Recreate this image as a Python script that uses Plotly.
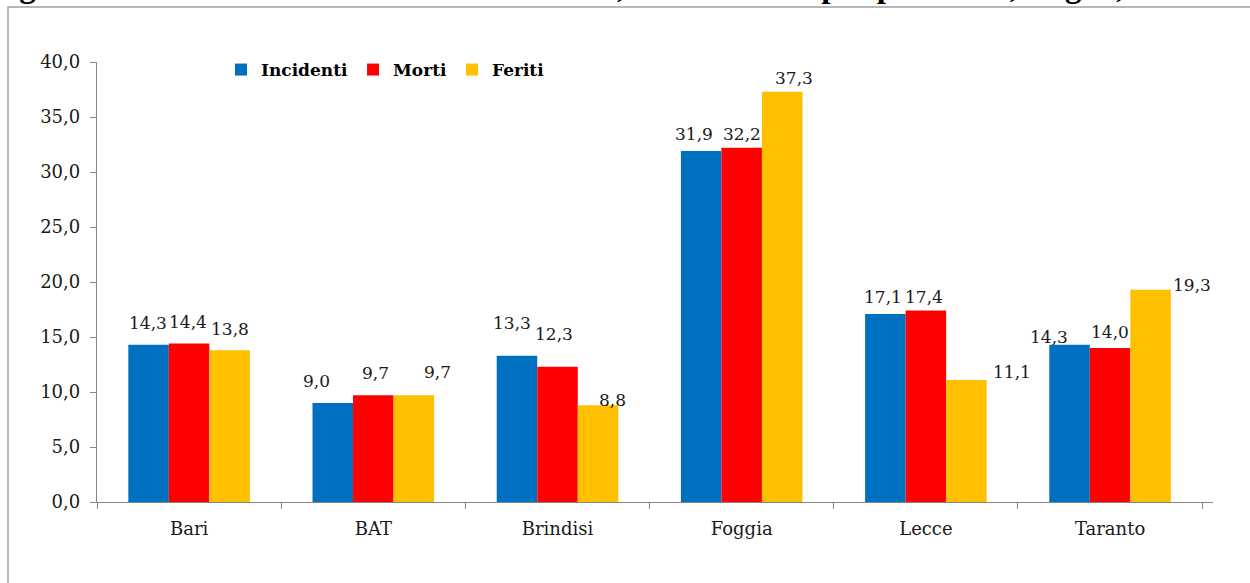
import plotly.graph_objects as go

# ---------------- data ----------------
categories = ["Bari", "BAT", "Brindisi", "Foggia", "Lecce", "Taranto"]
incidenti = [14.3, 9.0, 13.3, 31.9, 17.1, 14.3]
morti = [14.4, 9.7, 12.3, 32.2, 17.4, 14.0]
feriti = [13.8, 9.7, 8.8, 37.3, 11.1, 19.3]
series_names = ["Incidenti", "Morti", "Feriti"]
y_ticks = [0, 5, 10, 15, 20, 25, 30, 35, 40]
title_text = ("Figura 2 – Distribuzione di incidenti stradali, morti e feriti "
              "per provincia, Puglia, 2012")

# ---------------- styles ----------------
colors = ["#0070C0", "#FF0000", "#FFC000"]
W, H = 1250, 583
L, R, T, B = 97, 37, 62, 81
plot_w = W - L - R
plot_h = H - T - B
bargap = 0.34
axis_gray = "#868686"
text_col = "#1a1a1a"
label_font = dict(family="DejaVu Serif", size=17, color=text_col)

# label offsets (dx px, lift px) per series, per category
label_offsets = [
    [(0, 22), (-16, 22), (-5, 33), (-7, 17), (-2, 17), (-20, 8)],
    [(-1, 22), (2, 22), (-3, 33), (0, 14), (-2, 14), (0, 16)],
    [(0, 21), (23, 23), (14, 5), (11, 14), (45, 8), (41, 5)],
]

all_series = [incidenti, morti, feriti]

fig = go.Figure()
for name, vals, col in zip(series_names, all_series, colors):
    fig.add_trace(go.Bar(x=categories, y=vals, name=name,
                         marker=dict(color=col, line=dict(width=0))))

cat_w = plot_w / len(categories)
bar_w = cat_w * (1 - bargap) / len(all_series)

annotations = []
for si, vals in enumerate(all_series):
    center_off = (si - (len(all_series) - 1) / 2) * bar_w
    for ci, v in enumerate(vals):
        dx, lift = label_offsets[si][ci]
        annotations.append(dict(
            x=categories[ci], y=v, xref="x", yref="y",
            text=f"{v:.1f}".replace(".", ","),
            showarrow=False, xanchor="center", yanchor="middle",
            xshift=center_off + dx, yshift=lift,
            font=label_font,
        ))

# caption (cut off at the top of the picture, as in the reference)
annotations.append(dict(
    x=(-11 - L) / plot_w, y=(plot_h + T - 5) / plot_h,
    xref="paper", yref="paper", xanchor="left", yanchor="bottom",
    text=f"<b>{title_text}</b>", showarrow=False, borderpad=0,
    font=dict(family="Liberation Serif", size=33, color="#000000"),
))

fig.update_layout(
    width=W, height=H,
    margin=dict(l=L, r=R, t=T, b=B),
    paper_bgcolor="white", plot_bgcolor="white",
    barmode="group", bargap=bargap, bargroupgap=0,
    separators=",.",
    showlegend=True,
    legend=dict(orientation="h", x=(221 - L) / plot_w, y=(plot_h + T - 70) / plot_h,
                xanchor="left", yanchor="middle",
                font=dict(family="DejaVu Serif", size=17, color="#000000", weight="bold"),
                bgcolor="rgba(0,0,0,0)", itemwidth=30),
    annotations=annotations,
    shapes=[dict(type="rect", xref="paper", yref="paper",
                 x0=(8 - L) / plot_w, x1=(W + 20 - L) / plot_w,
                 y0=(plot_h + T - (H + 20)) / plot_h, y1=(plot_h + T - 7) / plot_h,
                 line=dict(color="#a0a0a0", width=1.5), layer="below")],
)

fig.update_xaxes(
    type="category", showline=True, linecolor=axis_gray, linewidth=1.3,
    ticks="outside", tickson="boundaries", ticklen=6, tickcolor=axis_gray,
    tickwidth=1.3, showgrid=False, zeroline=False,
    tickfont=dict(family="DejaVu Serif", size=18, color=text_col),
    ticklabelstandoff=10,
)
fig.update_yaxes(
    range=[0, 40], tickvals=y_ticks, tickformat=".1f",
    showline=True, linecolor=axis_gray, linewidth=1.3,
    ticks="outside", ticklen=6, tickcolor=axis_gray, tickwidth=1.3,
    showgrid=False, zeroline=False,
    tickfont=dict(family="DejaVu Serif", size=18, color=text_col),
    ticklabelstandoff=6,
)

fig.write_html("out.html",
               config={"displayModeBar": False},
               post_script="document.body.style.margin='0';"
                           "document.body.style.overflow='hidden';")
